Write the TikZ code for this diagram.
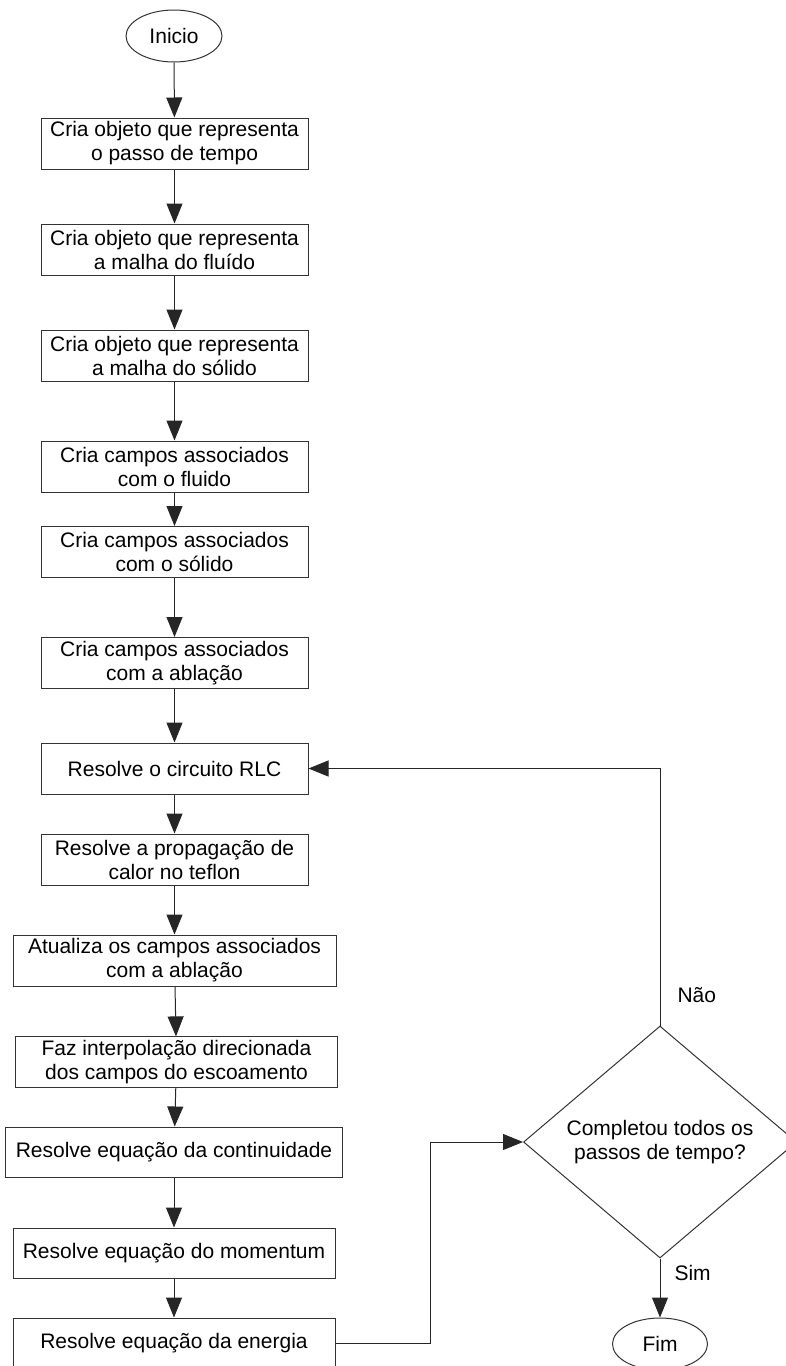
\documentclass[tikz,border=0pt]{standalone}
\usepackage{fontspec}
\setmainfont{Liberation Sans}
\usepackage{tikz}
\usetikzlibrary{shapes.geometric,arrows.meta}

\tikzset{
  texto/.style={font=\fontsize{21}{24}\selectfont},
  caixa/.style={texto, draw=black!80, line width=1pt, align=center, minimum width=267pt, minimum height=51pt},
  terminal/.style={texto, ellipse, draw=black!80, line width=1pt, minimum width=96pt, minimum height=52pt, inner sep=0pt},
  decisao/.style={texto, diamond, draw=black!80, line width=1pt, align=center, minimum width=273pt, minimum height=232pt, aspect=1.18, inner sep=0pt},
  seta/.style={-{Triangle[length=20pt,width=16pt]}, line width=1pt, draw=black!85},
}

\begin{document}
\begin{tikzpicture}[x=1pt,y=-1pt]
            \useasboundingbox (0,0) rectangle (786,1366);

            \node[terminal] (a0) at (174,36) {Inicio};
            \node[caixa] (a1) at (174.5,143.5) {Cria objeto que representa\\o passo de tempo};
            \node[caixa] (a2) at (174.5,249.5) {Cria objeto que representa\\a malha do fluído};
            \node[caixa] (a3) at (174.5,355.5) {Cria objeto que representa\\a malha do sólido};
            \node[caixa] (a4) at (174.5,466.5) {Cria campos associados\\com o fluido};
            \node[caixa] (a5) at (174.5,552) {Cria campos associados\\com o sólido};
            \node[caixa] (a6) at (174.5,663) {Cria campos associados\\com a ablação};
            \node[caixa] (a7) at (174.5,768.5) {Resolve o circuito RLC};
            \node[caixa] (a8) at (174.5,859.5) {Resolve a propagação de\\calor no teflon};
            \node[caixa, minimum width=323pt] (a9) at (174.5,960.5) {Atualiza os campos associados\\com a ablação};
            \node[caixa, minimum width=322pt, minimum height=50pt] (a10) at (176.5,1062) {Faz interpolação direcionada\\dos campos do escoamento};
            \node[caixa, minimum width=337pt, minimum height=50pt] (a11) at (174,1152) {Resolve equação da continuidade};
            \node[caixa, minimum width=322pt, minimum height=50pt] (a12) at (174,1253) {Resolve equação do momentum};
            \node[caixa, minimum width=322pt, minimum height=50pt] (a13) at (174,1343) {Resolve equação da energia};

            \node[decisao] (d1) at (660,1142) {Completou todos os\\passos de tempo?};
            \node[terminal, minimum width=95pt] (a14) at (660,1344) {Fim};

            \node[texto, anchor=west] (l1) at (674,995) {Não};
            \node[texto, anchor=west] (l2) at (671,1273) {Sim};

            \coordinate (c1) at (430,1142);

            \draw[seta] (a0) -- (a1);
            \draw[seta] (a1) -- (a2);
            \draw[seta] (a2) -- (a3);
            \draw[seta] (a3) -- (a4);
            \draw[seta] (a4) -- (a5);
            \draw[seta] (a5) -- (a6);
            \draw[seta] (a6) -- (a7);
            \draw[seta] (a7) -- (a8);
            \draw[seta] (a8) -- (a9);
            \draw[seta] (a9) -- (a10);
            \draw[seta] (a10) -- (a11);
            \draw[seta] (a11) -- (a12);
            \draw[seta] (a12) -- (a13);
            \draw[seta] (a13.east) -| (c1) -- (d1.west);
            \draw[seta] (d1.north) |- (a7.east);
            \draw[seta] (d1.south) -- (a14);
        \end{tikzpicture}
\end{document}
